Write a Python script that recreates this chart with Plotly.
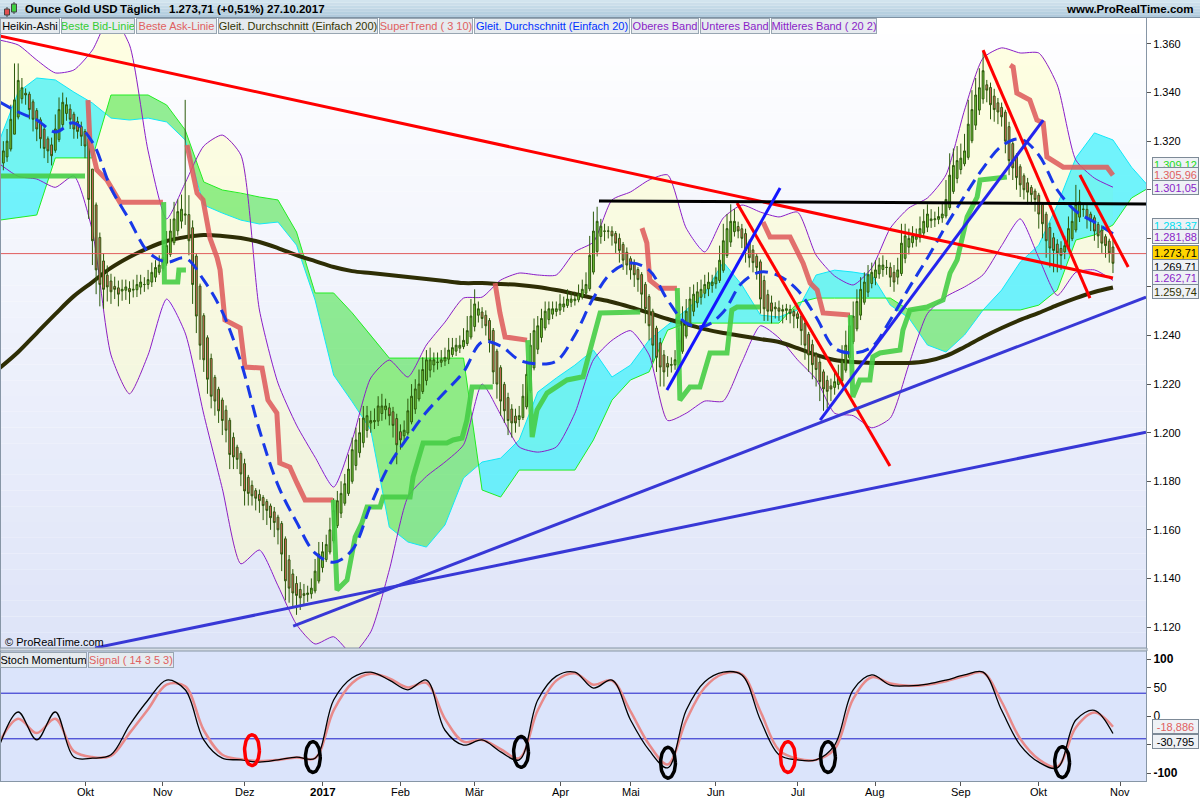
import numpy as np
import pandas as pd
import plotly.graph_objects as go

# ============================ DATA ============================
holidays = ["2016-12-26", "2017-01-02", "2017-04-14"]
first_day = "2016-08-31"
last_axis_day = "2017-11-30"
month_keys = ["2016-10", "2016-11", "2016-12", "2017-01", "2017-02", "2017-03", "2017-04",
              "2017-05", "2017-06", "2017-07", "2017-08", "2017-09", "2017-10", "2017-11"]
month_names = ["Okt", "Nov", "Dez", "<b>2017</b>", "Feb", "Mär", "Apr", "Mai", "Jun", "Jul",
               "Aug", "Sep", "Okt", "Nov"]

# Heikin-Ashi closes, one per trading day (31.08.2016 .. 27.10.2017)
ha_open_first = 1309.0
ha_close = [
    1313, 1316, 1320, 1329, 1337, 1345, 1342, 1339, 1333, 1329,
    1325, 1321, 1317, 1316, 1314, 1325, 1333, 1336, 1335, 1329,
    1325, 1324, 1322, 1318, 1296, 1279, 1267, 1261, 1259, 1260,
    1258, 1259, 1257, 1259, 1260, 1258, 1259, 1261, 1262, 1261,
    1263, 1266, 1268, 1269, 1272, 1277, 1283, 1288, 1291, 1292,
    1290, 1279, 1261, 1248, 1236, 1230, 1222, 1215, 1213, 1209,
    1205, 1201, 1191, 1190, 1189, 1183, 1176, 1175, 1174, 1173,
    1172, 1170, 1168, 1165, 1163, 1160, 1150, 1139, 1136, 1134,
    1133, 1132, 1133, 1134, 1136, 1143, 1150, 1151, 1154, 1160,
    1168, 1172, 1175, 1179, 1185, 1193, 1197, 1200, 1206, 1207,
    1205, 1205, 1211, 1211, 1211, 1207, 1203, 1195, 1197, 1201,
    1209, 1215, 1218, 1220, 1226, 1230, 1230, 1230, 1229, 1230,
    1231, 1234, 1235, 1236, 1236, 1238, 1242, 1248, 1253, 1251,
    1247, 1244, 1238, 1225, 1220, 1213, 1209, 1205, 1204, 1204,
    1207, 1215, 1224, 1236, 1242, 1244, 1247, 1250, 1251, 1251,
    1251, 1253, 1253, 1255, 1255, 1255, 1257, 1259, 1261, 1273,
    1283, 1287, 1285, 1283, 1283, 1281, 1278, 1275, 1271, 1269,
    1267, 1265, 1263, 1257, 1251, 1244, 1236, 1231, 1227, 1225,
    1227, 1228, 1230, 1238, 1246, 1250, 1255, 1257, 1258, 1259,
    1261, 1262, 1262, 1264, 1271, 1279, 1284, 1287, 1287, 1283,
    1280, 1275, 1272, 1270, 1268, 1255, 1251, 1250, 1250, 1251,
    1250, 1250, 1251, 1249, 1248, 1247, 1242, 1236, 1232, 1228,
    1226, 1221, 1218, 1217, 1218, 1221, 1223, 1230, 1236, 1244,
    1248, 1254, 1259, 1262, 1265, 1266, 1267, 1269, 1269, 1268,
    1264, 1262, 1267, 1278, 1281, 1280, 1281, 1281, 1284, 1287,
    1290, 1288, 1288, 1289, 1290, 1296, 1306, 1310, 1312, 1313,
    1316, 1327, 1333, 1339, 1342, 1349, 1341, 1335, 1333, 1332,
    1330, 1320, 1312, 1309, 1305, 1302, 1300, 1299, 1298, 1296,
    1290, 1286, 1279, 1276, 1275, 1274, 1273, 1277, 1284, 1287,
    1294, 1295, 1292, 1288, 1287, 1283, 1281, 1278, 1277, 1274,
    1269.71,
]
hi_wick = [
    3, 4, 5, 6, 15, 7, 4, 2, 1, 1,
    1, 1, 2, 1, 3, 6, 5, 4, 3, 2,
    1, 2, 2, 1, 1, 0, 1, 2, 3, 4,
    3, 4, 3, 4, 3, 3, 4, 4, 3, 3,
    4, 4, 3, 4, 5, 6, 5, 7, 5, 6,
    47, 8, 3, 1, 1, 1, 1, 2, 1, 1,
    1, 2, 1, 2, 1, 1, 2, 1, 2, 1,
    2, 1, 1, 1, 2, 1, 1, 1, 2, 2,
    3, 3, 4, 3, 4, 5, 5, 4, 4, 5,
    5, 4, 5, 4, 6, 5, 5, 6, 5, 4,
    4, 5, 4, 5, 3, 2, 2, 2, 3, 4,
    5, 5, 4, 6, 5, 4, 5, 3, 4, 4,
    4, 5, 4, 3, 4, 5, 6, 7, 6, 3,
    2, 2, 1, 1, 1, 1, 1, 2, 2, 3,
    4, 5, 6, 5, 5, 4, 4, 4, 3, 3,
    3, 4, 3, 4, 3, 3, 4, 4, 5, 8,
    8, 6, 3, 3, 2, 2, 1, 2, 1, 2,
    1, 2, 1, 1, 1, 1, 1, 1, 2, 2,
    3, 3, 4, 5, 6, 5, 5, 4, 4, 4,
    4, 4, 3, 4, 6, 7, 6, 7, 5, 2,
    2, 2, 1, 2, 1, 1, 2, 2, 3, 2,
    3, 2, 2, 2, 1, 1, 1, 1, 1, 2,
    1, 2, 1, 2, 3, 4, 5, 6, 6, 5,
    6, 5, 5, 4, 4, 4, 4, 3, 4, 3,
    2, 3, 5, 8, 5, 4, 4, 3, 5, 5,
    4, 4, 3, 4, 5, 8, 9, 7, 6, 6,
    7, 10, 8, 7, 8, 8, 2, 2, 3, 2,
    2, 1, 2, 1, 1, 1, 1, 2, 1, 1,
    1, 1, 1, 2, 2, 2, 3, 4, 5, 6,
    8, 5, 2, 2, 1, 1, 1, 2, 1, 1,
    3,
]
lo_wick = [
    4, 3, 2, 1, 0, 1, 2, 4, 4, 5,
    5, 4, 4, 5, 4, 1, 1, 2, 3, 4,
    4, 3, 4, 5, 8, 10, 10, 9, 8, 6,
    5, 4, 5, 4, 4, 5, 3, 3, 3, 3,
    2, 2, 2, 1, 1, 1, 1, 1, 2, 3,
    4, 6, 8, 7, 6, 5, 6, 5, 6, 5,
    6, 5, 6, 5, 4, 5, 6, 5, 4, 5,
    5, 6, 6, 5, 6, 6, 7, 8, 6, 6,
    8, 5, 4, 3, 2, 1, 1, 2, 1, 1,
    1, 1, 2, 1, 1, 1, 2, 2, 2, 3,
    4, 3, 2, 3, 4, 4, 5, 8, 4, 2,
    1, 1, 2, 1, 1, 2, 3, 3, 3, 2,
    2, 2, 1, 2, 2, 1, 1, 1, 2, 3,
    4, 4, 5, 5, 6, 6, 5, 6, 6, 4,
    3, 1, 1, 1, 1, 2, 2, 1, 2, 2,
    2, 2, 2, 1, 2, 2, 1, 1, 1, 1,
    1, 2, 3, 4, 3, 4, 4, 5, 4, 4,
    4, 5, 5, 6, 6, 6, 7, 6, 8, 6,
    4, 3, 2, 1, 1, 1, 1, 2, 2, 3,
    2, 3, 3, 2, 1, 1, 1, 2, 2, 3,
    4, 5, 4, 4, 5, 6, 5, 4, 5, 4,
    4, 5, 4, 4, 5, 4, 6, 6, 7, 6,
    7, 8, 9, 7, 5, 3, 2, 1, 1, 1,
    1, 1, 2, 1, 2, 2, 3, 2, 3, 3,
    4, 4, 3, 1, 2, 3, 2, 3, 2, 2,
    2, 3, 3, 2, 2, 1, 1, 1, 2, 2,
    1, 1, 1, 2, 2, 2, 5, 6, 5, 5,
    4, 5, 6, 5, 5, 5, 4, 5, 4, 5,
    6, 6, 7, 8, 9, 8, 6, 3, 1, 1,
    1, 2, 3, 4, 4, 4, 5, 4, 5, 4,
    4,
]

# indicator readings, one every 5 trading days (bar 0, 5, 10 ...)
sample_step = 5
sma200 = [1226.6, 1233.2, 1241.0, 1248.8, 1256.2, 1262.0, 1267.8, 1272.3, 1276.0, 1278.9,
          1280.5, 1281.4, 1281.0, 1280.1, 1278.5, 1276.0, 1273.1, 1270.6, 1268.2, 1266.5,
          1265.7, 1264.9, 1264.1, 1263.3, 1262.4, 1261.6, 1261.6, 1261.2, 1260.8, 1260.0,
          1258.7, 1257.1, 1255.4, 1253.8, 1251.7, 1249.3, 1246.8, 1244.7, 1242.6, 1241.0,
          1239.8, 1238.5, 1237.3, 1234.8, 1232.0, 1229.9, 1229.1, 1228.7, 1228.7, 1228.7,
          1229.5, 1231.6, 1235.3, 1239.4, 1243.1, 1246.4, 1249.3, 1252.5, 1255.4, 1257.9,
          1259.74]
sma20 = [1336.1, 1332.0, 1328.7, 1323.8, 1327.5, 1319.6, 1300.7, 1287.5, 1274.4, 1270.2,
         1271.9, 1262.8, 1249.7, 1229.1, 1201.1, 1178.4, 1163.2, 1150.4, 1146.7, 1151.7,
         1170.2, 1186.7, 1198.2, 1208.5, 1216.7, 1225.0, 1237.3, 1235.7, 1229.9, 1228.3,
         1229.5, 1240.2, 1255.4, 1266.1, 1269.8, 1266.9, 1254.6, 1245.1, 1243.9, 1249.7,
         1261.6, 1266.1, 1264.5, 1258.7, 1247.6, 1234.8, 1232.8, 1235.3, 1246.4, 1259.5,
         1271.9, 1285.1, 1297.4, 1308.9, 1318.0, 1320.9, 1314.3, 1299.9, 1291.2, 1286.7,
         1281.88]
bb_upper = [1361.6, 1359.6, 1353.4, 1348.1, 1349.3, 1357.5, 1371.9, 1359.6, 1316.0, 1288.0,
            1302.8, 1318.0, 1322.5, 1314.3, 1250.5, 1220.4, 1203.1, 1189.9, 1177.6, 1197.0,
            1222.5, 1229.9, 1222.9, 1236.1, 1245.5, 1255.4, 1255.8, 1262.8, 1265.7, 1264.9,
            1264.9, 1274.4, 1278.5, 1295.8, 1299.1, 1304.0, 1306.1, 1284.2, 1274.4, 1288.4,
            1293.7, 1290.8, 1288.8, 1290.8, 1273.1, 1264.5, 1260.8, 1267.8, 1284.2, 1292.5,
            1296.6, 1306.1, 1332.8, 1354.2, 1358.4, 1356.3, 1356.3, 1343.1, 1312.2, 1304.8,
            1301.05]
bb_lower = [1310.6, 1305.5, 1304.4, 1301.0, 1305.7, 1283.0, 1232.0, 1216.0, 1232.0, 1255.0,
            1241.0, 1207.6, 1177.0, 1146.0, 1151.7, 1137.0, 1121.0, 1113.0, 1116.0, 1109.0,
            1118.0, 1143.5, 1173.5, 1182.0, 1187.9, 1195.0, 1220.0, 1207.4, 1194.1, 1192.0,
            1194.1, 1208.0, 1230.0, 1238.0, 1242.0, 1232.0, 1205.0, 1208.0, 1213.0, 1213.0,
            1229.0, 1244.0, 1239.0, 1230.0, 1222.0, 1208.0, 1207.0, 1202.0, 1206.0, 1228.0,
            1249.0, 1256.0, 1260.0, 1265.0, 1277.0, 1288.0, 1272.0, 1256.5, 1266.0, 1267.0,
            1262.71]
# cloud lines (cyan line / green line), shifted forward, bars 0..310
cloud_a = [1320.5, 1340.2, 1346.0, 1345.2, 1340.2, 1335.7, 1329.5, 1328.7, 1329.5, 1327.9,
           1320.5, 1293.7, 1290.4, 1287.5, 1285.9, 1286.7, 1277.2, 1254.6, 1223.7, 1212.7,
           1201.1, 1161.1, 1155.0, 1152.9, 1162.0, 1181.3, 1187.9, 1189.5, 1197.0, 1216.7,
           1222.5, 1227.8, 1234.0, 1222.9, 1227.8, 1238.1, 1244.3, 1250.5, 1257.5, 1270.2,
           1260.8, 1248.4, 1247.6, 1250.5, 1264.9, 1266.9, 1266.1, 1264.9, 1252.5, 1247.2,
           1236.1, 1233.2, 1240.2, 1250.5, 1258.7, 1270.2, 1277.2, 1293.7, 1313.1, 1323.4,
           1320.5, 1309.3, 1300.7]
cloud_b = [1287.5, 1288.4, 1289.6, 1313.1, 1313.1, 1313.1, 1339.0, 1339.0, 1339.0, 1334.9,
           1324.6, 1303.2, 1299.9, 1298.6, 1297.0, 1295.8, 1282.6, 1257.5, 1257.5, 1249.3,
           1240.2, 1230.7, 1230.7, 1230.7, 1230.7, 1230.7, 1176.4, 1173.5, 1184.6, 1184.6,
           1184.6, 1184.6, 1197.0, 1213.4, 1221.7, 1225.0, 1242.2, 1245.1, 1245.1, 1245.1,
           1245.1, 1245.1, 1245.1, 1253.4, 1255.4, 1255.4, 1255.4, 1255.4, 1255.4, 1250.5,
           1250.5, 1250.5, 1250.5, 1250.5, 1250.5, 1250.5, 1252.5, 1258.7, 1279.3, 1281.4,
           1285.5, 1296.6, 1301.1]

# SuperTrend corner points (bar, value, u = green / d = red)
st_bar = [0, 23,
          23.8, 24.3, 26.2, 28.9, 30.5, 32.4, 44.0,
          44.2, 44.4, 48.0, 48.3, 50.2,
          50.5, 51.3, 52.1, 53.2, 54.8, 55.9, 56.7, 58.6, 59.4, 60.7, 64.8, 66.1, 70.7, 72.3,
          74.7, 75.5, 78.2, 80.1, 82.3, 89.8,
          89.9, 90.9, 93.6, 94.4, 95.8, 97.6, 99.0, 102.5, 103.3, 110.6, 111.4, 114.1, 120.5,
          122.2, 124.6, 125.9, 127.3, 132.9,
          133.5, 134.8, 136.2, 142.1,
          142.3, 143.5, 144.8, 147.5, 152.9, 157.2, 159.1, 161.8, 172.6,
          173.1, 174.4, 175.2, 177.9, 182.5,
          182.6, 183.3, 186.0, 188.7, 191.4, 196.0, 197.3, 198.7, 204.9,
          205.7, 207.6, 213.0, 216.5, 218.4, 220.3, 221.9, 229.1,
          229.2, 229.9, 231.8, 234.5, 235.3, 237.2, 242.6, 243.4, 245.3, 249.9, 254.2, 256.1,
          258.0, 259.6, 260.7, 263.4, 264.2, 271.4,
          272.3, 273.1, 274.1, 277.6, 279.5, 281.2, 282.2, 284.9, 286.6, 298.4, 300]
st_val = [1305.7, 1305.7,
          1336.9, 1320.5, 1308.1, 1304.0, 1299.9, 1294.9, 1294.9,
          1294.9, 1262.0, 1262.0, 1267.0, 1267.0,
          1318.4, 1312.0, 1307.0, 1298.6, 1295.8, 1288.0, 1280.0, 1272.0, 1267.0, 1246.4,
          1243.1, 1227.0, 1226.6, 1213.4, 1208.1, 1187.5, 1185.8, 1179.3, 1172.3, 1172.3,
          1172.3, 1135.2, 1139.3, 1146.3, 1157.0, 1162.8, 1169.4, 1169.4, 1173.5, 1173.5,
          1181.7, 1195.7, 1195.7, 1197.0, 1197.8, 1205.2, 1218.8, 1218.8,
          1261.6, 1249.3, 1239.4, 1238.1,
          1238.1, 1198.2, 1209.3, 1216.3, 1221.7, 1223.0, 1234.0, 1249.3, 1249.7,
          1284.2, 1278.1, 1262.8, 1259.5, 1259.5,
          1259.5, 1213.4, 1218.8, 1218.8, 1232.8, 1232.8, 1250.5, 1251.7, 1251.7,
          1286.7, 1280.5, 1280.5, 1269.8, 1261.6, 1258.7, 1249.3, 1248.4,
          1248.4, 1214.7, 1221.7, 1221.7, 1231.2, 1232.8, 1234.0, 1242.2, 1250.5, 1251.7,
          1254.6, 1265.7, 1271.1, 1280.5, 1288.8, 1297.0, 1304.0, 1305.2,
          1351.3, 1350.5, 1339.8, 1336.9, 1328.7, 1327.5, 1313.5, 1311.0, 1309.3, 1309.3,
          1305.96]
st_side = ("uu" + "d" * 7 + "u" * 5 + "d" * 20 + "u" * 18 + "d" * 4 + "u" * 9 + "d" * 5
           + "u" * 9 + "d" * 8 + "u" * 18 + "d" * 11)

# hand-drawn trend lines (start bar, start value, end bar, end value)
tl_bar0 = [0.0, 265.0, 291.1, 198.7, 161.5, 179.8, 221.1, 79.1, 25.7]
tl_val0 = [1363.3, 1357.5, 1306.1, 1294.5, 1295.4, 1217.6, 1205.2, 1120.4, 1111.4]
tl_bar1 = [300.0, 293.8, 304.1, 239.9, 308.9, 210.3, 281.2, 308.9, 308.9]
tl_val1 = [1263.7, 1255.4, 1268.2, 1186.3, 1294.1, 1300.7, 1328.7, 1255.8, 1200.2]
tl_color = ["#ff0000", "#ff0000", "#ff0000", "#ff0000", "#000000",
            "#1414ff", "#2424ee", "#3838d6", "#3838d6"]

last_price = 1273.71

# Stochastic momentum (black) and signal (pink), every 5 bars
stoch = [-51, 7, -42, 7, -72, -74, -68, -16, 28, 63, 46, -42, -74, -77, -81, -77, -72, -74,
         28, 67, 77, 63, 46, 63, -25, -51, -42, -63, -77, 28, 70, 77, 49, 63, -7, -60, -91,
         10, 60, 77, 72, -7, -68, -77, -77, -51, 46, 72, 54, 53, 56, 63, 72, 77, 10, -51,
         -81, -91, -7, 10, -30.795]
signal = [-45, -5, -30, -5, -62, -72, -70, -30, 12, 55, 52, -25, -68, -76, -79, -77, -73, -74,
          10, 58, 74, 66, 50, 58, -5, -45, -42, -58, -74, 10, 62, 75, 55, 62, 8, -50, -85,
          -8, 50, 74, 73, 8, -60, -75, -77, -58, 30, 68, 57, 53, 55, 61, 70, 76, 25, -40,
          -76, -89, -20, 6, -18.886]
stoch_levels = [40, -40]
ellipse_bar = [68.0, 84.4, 140.5, 180.1, 212.4, 223.2, 286.3]
ellipse_val = [-60, -72, -63, -82, -72, -72, -81]
ellipse_color = ["#ff0000", "#000000", "#000000", "#000000", "#ff0000", "#000000", "#000000"]

# right-hand value tags
tag_values = [1309.12, 1305.96, 1301.05, 1283.37, 1281.88, 1273.71, 1269.71, 1262.71, 1259.74]
tag_colors = ["#22dd22", "#e06060", "#8a1ec8", "#00e0f0", "#8a1ec8", "#000000", "#000000",
              "#8a1ec8", "#333300"]
tag_shift = [3.5, 1, 0, 5, -3, 1.5, -3, 3, -3.5]
stoch_tags = [-18.886, -30.795]
stoch_tag_colors = ["#e06060", "#000000"]
stoch_tag_shift = [0, -8]

# ============================ GEOMETRY ============================
W, H = 1200, 800
ML, MR, MT, MB = 1, 54, 0, 19
PW, PH = W - ML - MR, H - MT - MB


def px_x(p):
    return (p - ML) / PW


def px_y(p):
    return (PH - p) / PH


X_RANGE = [0.366, 308.9]
Y_RANGE = [1111.355, 1370.70]
Y2_RANGE = [-114.04, 114.04]
MAIN_DOM = [px_y(648), px_y(18)]
LOW_DOM = [0, px_y(651)]
FONT = "Liberation Sans, Arial, sans-serif"

cal = pd.bdate_range(first_day, last_axis_day)
cal = cal[~cal.isin(pd.to_datetime(holidays))]
ym = np.array(cal.strftime("%Y-%m"))
tick_pos = [int(np.argmax(ym == m)) for m in month_keys]

bars = list(range(len(ha_close)))
ha_open = [ha_open_first]
for k in range(1, len(ha_close)):
    ha_open.append((ha_open[k - 1] + ha_close[k - 1]) / 2)
highs = [max(o, c) + w for o, c, w in zip(ha_open, ha_close, hi_wick)]
lows = [min(o, c) - w for o, c, w in zip(ha_open, ha_close, lo_wick)]

samp = list(range(0, len(sma20) * sample_step, sample_step))
cloud_x = list(range(0, len(cloud_a) * sample_step, sample_step))

fig = go.Figure()

# ---------- base layer: bands and cloud ----------
fig.add_trace(go.Scatter(x=samp, y=bb_upper, mode="lines", line=dict(width=0, shape="spline"),
                         hoverinfo="skip", xaxis="x", yaxis="y"))
fig.add_trace(go.Scatter(x=samp, y=bb_lower, mode="lines", line=dict(width=0, shape="spline"),
                         fill="tonexty", fillcolor="rgba(255,255,190,0.45)",
                         hoverinfo="skip", xaxis="x", yaxis="y"))


def cloud_regions(xs, a, b):
    regs = []
    cx, ca, cb = [xs[0]], [a[0]], [b[0]]
    sign = a[0] >= b[0]
    for k in range(1, len(xs)):
        s = a[k] >= b[k]
        if s != sign:
            d0, d1 = a[k - 1] - b[k - 1], a[k] - b[k]
            t = d0 / (d0 - d1)
            xi = xs[k - 1] + t * (xs[k] - xs[k - 1])
            yi = a[k - 1] + t * (a[k] - a[k - 1])
            cx.append(xi); ca.append(yi); cb.append(yi)
            regs.append((cx, ca, cb, sign))
            cx, ca, cb = [xi], [yi], [yi]
            sign = s
        cx.append(xs[k]); ca.append(a[k]); cb.append(b[k])
    regs.append((cx, ca, cb, sign))
    return regs


for cx, ca, cb, sgn in cloud_regions(cloud_x, cloud_a, cloud_b):
    fig.add_trace(go.Scatter(x=cx + cx[::-1], y=ca + cb[::-1], mode="lines", fill="toself",
                             line=dict(width=0),
                             fillcolor="rgba(40,240,250,0.65)" if sgn else "rgba(60,225,60,0.55)",
                             hoverinfo="skip", xaxis="x", yaxis="y"))
fig.add_trace(go.Scatter(x=cloud_x, y=cloud_a, mode="lines", line=dict(color="#10e8f8", width=1),
                         hoverinfo="skip", xaxis="x", yaxis="y"))
fig.add_trace(go.Scatter(x=cloud_x, y=cloud_b, mode="lines", line=dict(color="#22ee22", width=1),
                         hoverinfo="skip", xaxis="x", yaxis="y"))
for band in (bb_upper, bb_lower):
    fig.add_trace(go.Scatter(x=samp, y=band, mode="lines",
                             line=dict(color="#8a1ec8", width=1, shape="spline", smoothing=0.6),
                             hoverinfo="skip", xaxis="x", yaxis="y"))
fig.add_trace(go.Scatter(x=samp, y=sma200, mode="lines",
                         line=dict(color="#2e2e05", width=4, shape="spline"),
                         hoverinfo="skip", xaxis="x", yaxis="y"))

# ---------- overlay layer: candles and lines on top ----------
fig.add_trace(go.Candlestick(
    x=bars, open=ha_open, high=highs, low=lows, close=ha_close,
    increasing=dict(line=dict(color="#2c5a0c", width=1), fillcolor="#74c83a"),
    decreasing=dict(line=dict(color="#2c5a0c", width=1), fillcolor="#e06868"),
    whiskerwidth=0, hoverinfo="skip", xaxis="x3", yaxis="y3"))

fig.add_trace(go.Scatter(x=X_RANGE, y=[last_price, last_price], mode="lines",
                         line=dict(color="#e05a5a", width=1), hoverinfo="skip",
                         xaxis="x3", yaxis="y3"))

# SuperTrend segments
seg_x, seg_y, seg_s = [st_bar[0]], [st_val[0]], st_side[0]
segments = []
for k in range(1, len(st_bar)):
    if st_side[k] != seg_s:
        segments.append((seg_x, seg_y, seg_s))
        seg_x, seg_y, seg_s = [], [], st_side[k]
    seg_x.append(st_bar[k]); seg_y.append(st_val[k])
segments.append((seg_x, seg_y, seg_s))
for sx, sy, ss in segments:
    fig.add_trace(go.Scatter(
        x=sx, y=sy, mode="lines",
        line=dict(color="rgba(70,205,70,0.9)" if ss == "u" else "rgba(222,92,92,0.88)", width=5),
        hoverinfo="skip", xaxis="x3", yaxis="y3"))

fig.add_trace(go.Scatter(x=samp, y=sma20, mode="lines",
                         line=dict(color="#1838e8", width=3, dash="13px,7px", shape="spline"),
                         hoverinfo="skip", xaxis="x3", yaxis="y3"))

for b0, v0, b1, v1, col in zip(tl_bar0, tl_val0, tl_bar1, tl_val1, tl_color):
    fig.add_trace(go.Scatter(x=[b0, b1], y=[v0, v1], mode="lines",
                             line=dict(color=col, width=3), hoverinfo="skip",
                             xaxis="x3", yaxis="y3"))

# ---------- lower panel ----------
fig.add_trace(go.Scatter(x=samp, y=signal, mode="lines",
                         line=dict(color="#e88a8a", width=2.5, shape="spline"),
                         hoverinfo="skip", xaxis="x2", yaxis="y2"))
fig.add_trace(go.Scatter(x=samp, y=stoch, mode="lines",
                         line=dict(color="#000000", width=1.3, shape="spline"),
                         hoverinfo="skip", xaxis="x2", yaxis="y2"))
t = np.linspace(0, 2 * np.pi, 60)
for eb, ev, ec in zip(ellipse_bar, ellipse_val, ellipse_color):
    fig.add_trace(go.Scatter(x=eb + 2.0 * np.cos(t), y=ev + 27 * np.sin(t), mode="lines",
                             line=dict(color=ec, width=3.5), hoverinfo="skip",
                             xaxis="x2", yaxis="y2"))

# ============================ DECORATION ============================
shapes = []


def mix(c0, c1, f):
    return "#%02x%02x%02x" % tuple(int(round(a + (b - a) * f)) for a, b in zip(c0, c1))


# main panel gradient background
N = 40
for k in range(N):
    y0 = 18 + (648 - 18) * k / N
    y1 = 18 + (648 - 18) * (k + 1) / N
    shapes.append(dict(type="rect", xref="paper", yref="paper", x0=0, x1=1,
                       y0=px_y(y1), y1=px_y(y0), layer="below", line=dict(width=0),
                       fillcolor=mix((255, 255, 255), (222, 228, 248), (k + 0.5) / N)))
# lower panel background
shapes.append(dict(type="rect", xref="paper", yref="paper", x0=0, x1=1, y0=0, y1=px_y(651),
                   layer="below", line=dict(width=0), fillcolor="#dbe4fb"))
# separator
shapes.append(dict(type="rect", xref="paper", yref="paper", x0=px_x(0), x1=px_x(1147),
                   y0=px_y(651), y1=px_y(648), layer="above",
                   line=dict(width=1, color="#8796a6"), fillcolor="#d5dce4"))
# title bar gradient
for k in range(6):
    shapes.append(dict(type="rect", xref="paper", yref="paper", x0=px_x(0), x1=px_x(1200),
                       y0=px_y(17 * (k + 1) / 6), y1=px_y(17 * k / 6), layer="above",
                       line=dict(width=0),
                       fillcolor=mix((214, 230, 240), (172, 200, 218), (k + 0.5) / 6)))
shapes.append(dict(type="line", xref="paper", yref="paper", x0=px_x(0), x1=px_x(1200),
                   y0=px_y(17.5), y1=px_y(17.5), line=dict(color="#7f92a3", width=1)))
# small candle icon
shapes.append(dict(type="line", xref="paper", yref="paper", x0=px_x(7), x1=px_x(7),
                   y0=px_y(17), y1=px_y(7), line=dict(color="#444", width=1)))
shapes.append(dict(type="rect", xref="paper", yref="paper", x0=px_x(4.5), x1=px_x(9.5),
                   y0=px_y(15), y1=px_y(9), line=dict(color="#444", width=1), fillcolor="#e05050"))
shapes.append(dict(type="line", xref="paper", yref="paper", x0=px_x(14), x1=px_x(14),
                   y0=px_y(14), y1=px_y(2), line=dict(color="#444", width=1)))
shapes.append(dict(type="rect", xref="paper", yref="paper", x0=px_x(11.5), x1=px_x(16.5),
                   y0=px_y(12), y1=px_y(4), line=dict(color="#444", width=1), fillcolor="#40d040"))
# stochastic reference levels
for lv in stoch_levels:
    shapes.append(dict(type="line", xref="x2 domain", yref="y2", x0=0, x1=1, y0=lv, y1=lv,
                       line=dict(color="#1c1cc8", width=1), layer="below"))

ann = []
title_parts = [("Ounce Gold USD", 23), ("Täglich", 118), ("1.273,71 (+0,51%)", 167),
               ("27.10.2017", 265)]
for txt, xp in title_parts:
    ann.append(dict(text="<b>%s</b>" % txt, xref="paper", yref="paper", x=px_x(xp),
                    y=px_y(9), xanchor="left", yanchor="middle", showarrow=False,
                    font=dict(family=FONT, size=11.5, color="#000")))
ann.append(dict(text="<b>www.ProRealTime.com</b>", xref="paper", yref="paper", x=px_x(1196),
                y=px_y(9), xanchor="right", yanchor="middle", showarrow=False,
                font=dict(family=FONT, size=11.5, color="#000")))

legend_items = [("Heikin-Ashi", "#000000", 0, 60), ("Beste Bid-Linie", "#33cc33", 61, 74),
                ("Beste Ask-Linie", "#e06060", 136, 81),
                ("Gleit. Durchschnitt (Einfach 200)", "#333300", 218, 160),
                ("SuperTrend ( 3 10)", "#e06060", 379, 94),
                ("Gleit. Durchschnitt (Einfach 20)", "#0030ff", 474, 156),
                ("Oberes Band", "#8a1ec8", 631, 68), ("Unteres Band", "#8a1ec8", 700, 70),
                ("Mittleres Band ( 20 2)", "#8a1ec8", 771, 106)]
for txt, col, xp, wd in legend_items:
    ann.append(dict(text=txt, xref="paper", yref="paper", x=px_x(xp), y=px_y(18),
                    xanchor="left", yanchor="top", showarrow=False, width=wd - 2, height=14,
                    bgcolor="#e6ebef", bordercolor="#98a6b2", borderwidth=1, borderpad=0,
                    font=dict(family=FONT, size=11, color=col)))
for txt, col, xp, wd in [("Stoch Momentum", "#000000", 0, 87),
                         ("Signal ( 14 3 5 3)", "#e06060", 88, 86)]:
    ann.append(dict(text=txt, xref="paper", yref="paper", x=px_x(xp), y=px_y(652),
                    xanchor="left", yanchor="top", showarrow=False, width=wd - 2, height=14,
                    bgcolor="#e6ebef", bordercolor="#98a6b2", borderwidth=1, borderpad=0,
                    font=dict(family=FONT, size=11, color=col)))
ann.append(dict(text="© ProRealTime.com", xref="paper", yref="paper", x=px_x(3), y=px_y(642),
                xanchor="left", yanchor="middle", showarrow=False,
                font=dict(family=FONT, size=11, color="#000")))
# month labels under the lower panel
for tp, nm in zip(tick_pos, month_names):
    ann.append(dict(text=nm, xref="x2", yref="paper", x=tp, y=px_y(792),
                    xanchor="center", yanchor="middle", showarrow=False,
                    font=dict(family=FONT, size=11.5 if "<b>" in nm else 11, color="#000")))


def de_fmt(v, nd):
    s = f"{v:,.{nd}f}"
    return s.replace(",", "X").replace(".", ",").replace("X", ".")


for v, col, sh in zip(tag_values, tag_colors, tag_shift):
    yellow = abs(v - last_price) < 1e-6
    ann.append(dict(text=de_fmt(v, 2), xref="paper", yref="y", x=px_x(1152), y=v, yshift=sh,
                    xanchor="left", yanchor="middle", showarrow=False, width=45, height=13,
                    bgcolor="#ffd400" if yellow else "#eef1f5", bordercolor="#7d8a97",
                    borderwidth=1, borderpad=0, font=dict(family=FONT, size=11, color=col)))
for v, col, sh in zip(stoch_tags, stoch_tag_colors, stoch_tag_shift):
    ann.append(dict(text=de_fmt(v, 3), xref="paper", yref="y2", x=px_x(1152), y=v, yshift=sh,
                    xanchor="left", yanchor="middle", showarrow=False, width=45, height=13,
                    bgcolor="#eef1f5", bordercolor="#7d8a97", borderwidth=1, borderpad=0,
                    font=dict(family=FONT, size=11, color=col)))

main_ticks = list(range(1120, 1361, 20))
axis_line = "#8796a6"
fig.update_layout(
    width=W, height=H, margin=dict(l=ML, r=MR, t=MT, b=MB),
    paper_bgcolor="white", plot_bgcolor="white", showlegend=False,
    font=dict(family=FONT, size=11, color="#000"),
    shapes=shapes, annotations=ann,
    xaxis=dict(domain=[0, 1], range=X_RANGE, anchor="y", showticklabels=False, ticks="",
               showgrid=False, zeroline=False, showline=True, mirror=True, linecolor=axis_line,
               rangeslider=dict(visible=False)),
    yaxis=dict(domain=MAIN_DOM, range=Y_RANGE, anchor="x", side="right", tickvals=main_ticks,
               ticktext=[de_fmt(v, 0) for v in main_ticks], ticks="outside", ticklen=4,
               tickcolor="#555", showgrid=False, zeroline=False, showline=True, mirror=True,
               linecolor=axis_line, tickfont=dict(size=11, color="#000")),
    xaxis2=dict(domain=[0, 1], range=X_RANGE, anchor="y2", tickvals=tick_pos,
                showticklabels=False, ticks="outside", ticklen=4, tickcolor="#555",
                showgrid=False, zeroline=False, showline=True, mirror=True, linecolor=axis_line,
                rangeslider=dict(visible=False)),
    yaxis2=dict(domain=LOW_DOM, range=Y2_RANGE, anchor="x2", side="right",
                tickvals=[100, 50, 0, -50, -100],
                ticktext=["<b>100</b>", "50", "0", "-50", "<b>-100</b>"], ticks="outside",
                ticklen=4, tickcolor="#555", showgrid=False, zeroline=False, showline=True,
                mirror=True, linecolor=axis_line, tickfont=dict(size=12, color="#000")),
    xaxis3=dict(overlaying="x", range=X_RANGE, anchor="y3", visible=False,
                rangeslider=dict(visible=False)),
    yaxis3=dict(overlaying="y", range=Y_RANGE, anchor="x3", visible=False),
)

# remove the browser's default page margin so the 1200x800 figure fills the window
fig.write_html("out.html", config={"displayModeBar": False},
               post_script="document.body.style.margin='0';document.body.style.overflow='hidden';")
